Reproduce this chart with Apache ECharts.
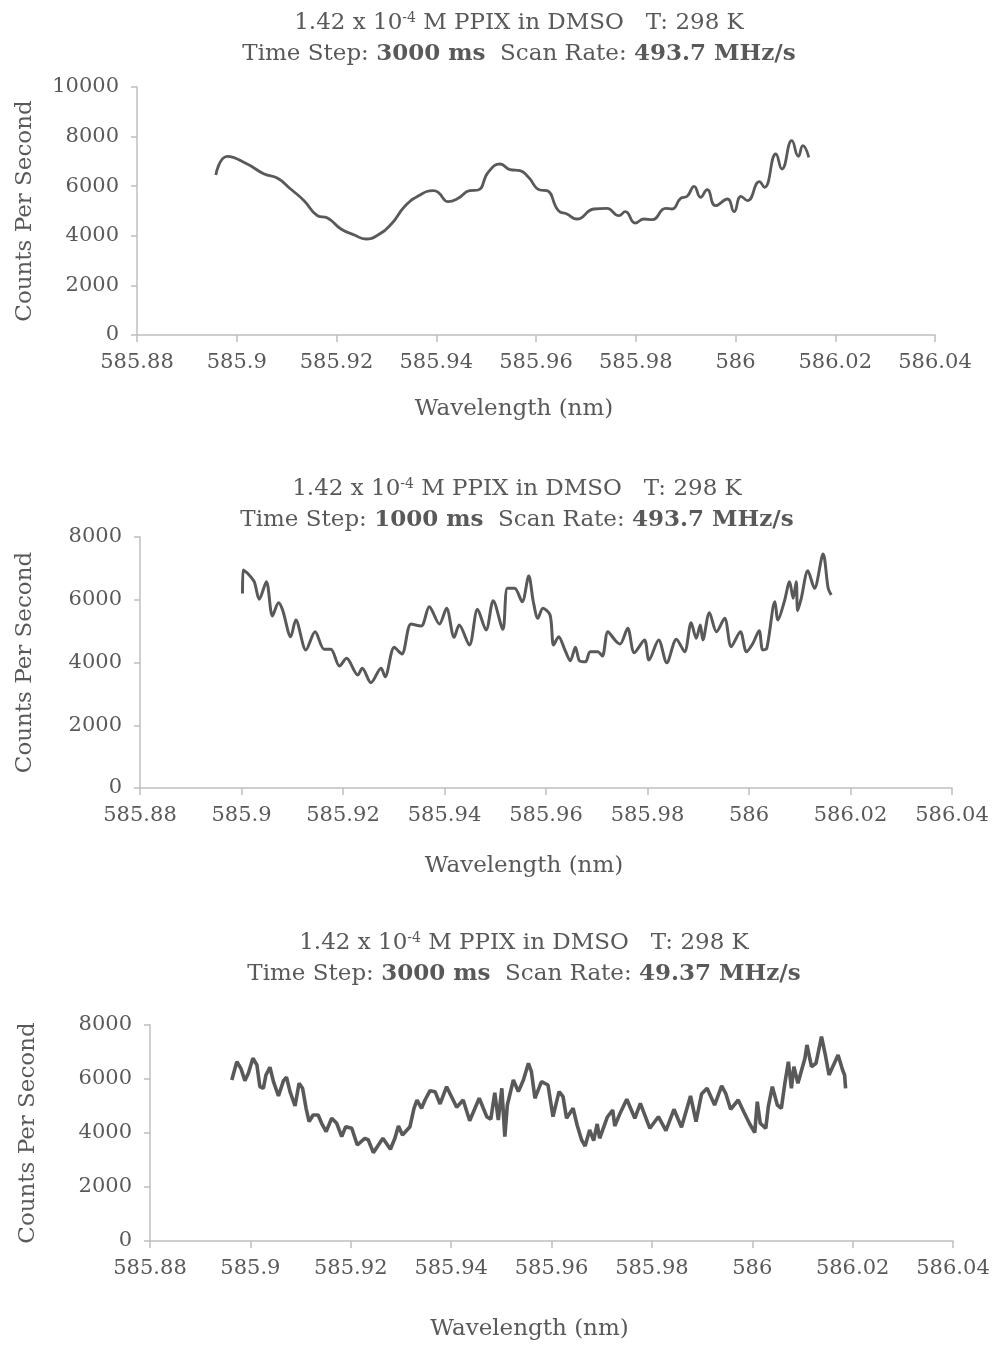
<!DOCTYPE html>
<html>
<head>
<meta charset="utf-8">
<script src="https://cdn.jsdelivr.net/npm/echarts@6/dist/echarts.min.js"></script>
<style>
html,body{margin:0;padding:0;background:#fff;}
#chart{width:993px;height:1345px;}
</style>
</head>
<body>
<div id="chart"></div>
<script>
// ---------- data ----------
const xTicks = [585.88, 585.9, 585.92, 585.94, 585.96, 585.98, 586, 586.02, 586.04];

const wl1 = [585.8958,585.8981,585.9021,585.9055,585.9082,585.9108,585.9135,585.9162,585.9182,585.9209,585.9236,585.9259,585.9283,585.9310,585.9337,585.9363,585.9394,585.9404,585.9424,585.9444,585.9467,585.9484,585.9504,585.9528,585.9548,585.9568,585.9585,585.9608,585.9622,585.9645,585.9662,585.9682,585.9716,585.9742,585.9766,585.9779,585.9799,585.9816,585.9833,585.9860,585.9873,585.9890,585.9903,585.9917,585.9930,585.9943,585.9960,585.9984,585.9997,586.0011,586.0024,586.0048,586.0058,586.0081,586.0093,586.0113,586.0126,586.0135,586.0147];
const cps1 = [6452,7206,6895,6492,6318,5887,5416,4811,4718,4274,4032,3871,4032,4476,5189,5593,5819,5754,5375,5512,5819,5847,6560,6895,6665,6625,6358,5847,5819,5012,4879,4677,5081,5108,4811,4973,4516,4677,4650,5108,5081,5512,5593,5996,5552,5860,5215,5484,4973,5593,5416,6183,5954,7298,6694,7835,7206,7633,7165];

const wl2 = [585.9002,585.9003,585.9012,585.9025,585.9035,585.9049,585.9061,585.9073,585.9081,585.9097,585.9107,585.9127,585.9145,585.9163,585.9176,585.9193,585.9207,585.9229,585.9238,585.9255,585.9275,585.9283,585.9301,585.9316,585.9334,585.9354,585.9370,585.9390,585.9404,585.9419,585.9429,585.9449,585.9465,585.9482,585.9496,585.9515,585.9524,585.9538,585.9553,585.9566,585.9575,585.9584,585.9594,585.9608,585.9615,585.9625,585.9636,585.9648,585.9658,585.9666,585.9678,585.9687,585.9702,585.9711,585.9722,585.9737,585.9746,585.9761,585.9774,585.9794,585.9803,585.9822,585.9838,585.9857,585.9873,585.9886,585.9896,585.9904,585.9909,585.9922,585.9936,585.9952,585.9965,585.9983,585.9995,586.0007,586.0020,586.0027,586.0035,586.0051,586.0057,586.0070,586.0080,586.0087,586.0093,586.0096,586.0103,586.0116,586.0129,586.0146,586.0156,586.0162];
const cps2 = [6200,6948,6843,6575,6014,6575,5482,5906,5673,4823,5355,4398,4982,4420,4420,3888,4133,3602,3815,3356,3815,3547,4484,4271,5227,5163,5779,5227,5727,4803,5195,4558,5695,5036,5970,5058,6365,6365,5938,6757,5938,5408,5727,5514,4558,4823,4452,4058,4484,4058,4026,4345,4345,4207,4982,4695,4590,5090,4313,4717,4080,4717,3994,4739,4345,5269,4771,5195,4717,5588,4982,5408,4504,4982,4345,4590,5014,4398,4452,5938,5355,5970,6575,6046,6575,5651,6046,6926,6365,7458,6365,6151];

const wl3 = [585.8963,585.8973,585.8981,585.8989,585.8996,585.9005,585.9013,585.9019,585.9026,585.9031,585.9039,585.9046,585.9056,585.9066,585.9072,585.9079,585.9089,585.9097,585.9104,585.9111,585.9117,585.9125,585.9135,585.9142,585.9151,585.9162,585.9172,585.9182,585.9190,585.9202,585.9213,585.9228,585.9235,585.9245,585.9264,585.9279,585.9288,585.9295,585.9303,585.9318,585.9326,585.9332,585.9341,585.9348,585.9358,585.9368,585.9378,585.9391,585.9404,585.9411,585.9424,585.9437,585.9456,585.9471,585.9479,585.9487,585.9494,585.9501,585.9507,585.9512,585.9524,585.9534,585.9544,585.9554,585.9560,585.9567,585.9580,585.9593,585.9603,585.9615,585.9623,585.9630,585.9643,585.9651,585.9660,585.9667,585.9676,585.9684,585.9691,585.9696,585.9711,585.9722,585.9726,585.9736,585.9750,585.9766,585.9777,585.9796,585.9813,585.9828,585.9844,585.9859,585.9877,585.9888,585.9899,585.9910,585.9925,585.9939,585.9947,585.9957,585.9972,585.9983,585.9995,586.0005,586.0010,586.0016,586.0027,586.0032,586.0040,586.0050,586.0058,586.0065,586.0072,586.0078,586.0083,586.0091,586.0105,586.0109,586.0118,586.0127,586.0138,586.0145,586.0153,586.0171,586.0180,586.0184,586.0186];
const cps3 = [5963,6642,6396,5938,6211,6767,6519,5716,5656,6148,6434,5901,5371,5938,6063,5531,5001,5841,5656,4915,4419,4667,4667,4360,4049,4545,4360,3863,4234,4174,3556,3804,3741,3270,3804,3397,3804,4259,3926,4234,4915,5222,4915,5222,5567,5531,5075,5716,5222,4952,5222,4456,5285,4604,4508,5493,4482,5656,3863,5037,5963,5531,5963,6582,6271,5285,5901,5778,4604,5531,5346,4545,4915,4297,3741,3519,4112,3716,4334,3804,4582,4852,4259,4704,5248,4545,5100,4174,4604,4086,4878,4211,5371,4419,5445,5656,5037,5741,5471,4878,5222,4789,4334,4011,5160,4360,4174,4974,5716,5037,4915,5841,6642,5656,6456,5841,6767,7260,6456,6582,7567,6952,6148,6889,6334,6148,5656];

const titles = [
  {conc: '1.42 x 10', exp: '-4', rest: ' M PPIX in DMSO   T: 298 K', step: '3000 ms', rate: '493.7 MHz/s'},
  {conc: '1.42 x 10', exp: '-4', rest: ' M PPIX in DMSO   T: 298 K', step: '1000 ms', rate: '493.7 MHz/s'},
  {conc: '1.42 x 10', exp: '-4', rest: ' M PPIX in DMSO   T: 298 K', step: '3000 ms', rate: '49.37 MHz/s'}
];
const yMax = [10000, 8000, 8000];
const xName = 'Wavelength (nm)';
const yName = 'Counts Per Second';

// ---------- layout ----------
const FONT = '"DejaVu Serif", serif';
const GREY = '#595959';
const AXIS = '#bfbfbf';
const grids = [
  {left: 137, top: 87, width: 798, height: 248},
  {left: 140, top: 537, width: 812, height: 251},
  {left: 150, top: 1025, width: 803, height: 216}
];
const titlePos = [{x: 514, y: 3}, {x: 512, y: 469}, {x: 519, y: 923}];
const yNameGap = [100, 103, 110];
const xNameGap = [63, 67, 77];
const widths = [2.8, 3, 3.6];
const smooths = [0.5, 0.3, false];

const rich = {
  n: {fontFamily: FONT, fontSize: 23, color: GREY, fontWeight: 'normal', lineHeight: 31},
  b: {fontFamily: FONT, fontSize: 23, color: GREY, fontWeight: 'bold', lineHeight: 31},
  s: {fontFamily: FONT, fontSize: 14, color: GREY, fontWeight: 'normal', lineHeight: 31, padding: [0, 0, 11, 0]}
};

const zip = (a, b) => a.map((v, i) => [v, b[i]]);
const dataSets = [zip(wl1, cps1), zip(wl2, cps2), zip(wl3, cps3)];

const option = {
  backgroundColor: '#fff',
  animation: false,
  title: titles.map((t, i) => ({
    left: titlePos[i].x, top: titlePos[i].y, textAlign: 'center',
    text: '{n|' + t.conc + '}{s|' + t.exp + '}{n|' + t.rest + '}\n{n|Time Step: }{b|' + t.step + '}{n|  Scan Rate: }{b|' + t.rate + '}',
    textStyle: {fontWeight: 'normal', rich: rich}
  })),
  grid: grids,
  xAxis: grids.map((g, i) => ({
    gridIndex: i, type: 'value', min: xTicks[0], max: xTicks[xTicks.length - 1], interval: 0.02,
    name: xName, nameLocation: 'middle', nameGap: xNameGap[i],
    nameTextStyle: {fontFamily: FONT, fontSize: 23, color: GREY, padding: [0, 44, 0, 0]},
    axisLine: {onZero: false, lineStyle: {color: AXIS, width: 1.5}},
    axisTick: {show: true, length: 7, lineStyle: {color: AXIS, width: 1.5}},
    axisLabel: {fontFamily: FONT, fontSize: 21, color: GREY, margin: 17,
      formatter: v => String(+(+v).toFixed(2))},
    splitLine: {show: false}
  })),
  yAxis: grids.map((g, i) => ({
    gridIndex: i, type: 'value', min: 0, max: yMax[i], interval: 2000,
    name: yName, nameLocation: 'middle', nameGap: yNameGap[i], nameRotate: 90,
    nameTextStyle: {fontFamily: FONT, fontSize: 23, color: GREY},
    axisLine: {show: true, lineStyle: {color: AXIS, width: 1.5}},
    axisTick: {show: true, length: 6, lineStyle: {color: AXIS, width: 1.5}},
    axisLabel: {fontFamily: FONT, fontSize: 21, color: GREY, margin: 18,
      formatter: v => String(v)},
    splitLine: {show: false}
  })),
  series: dataSets.map((d, i) => ({
    type: 'line', xAxisIndex: i, yAxisIndex: i, data: d,
    showSymbol: false, smooth: smooths[i],
    lineStyle: {color: GREY, width: widths[i]}
  }))
};

const chart = echarts.init(document.getElementById('chart'), null, {renderer: 'canvas'});
chart.setOption(option);
</script>
</body>
</html>
